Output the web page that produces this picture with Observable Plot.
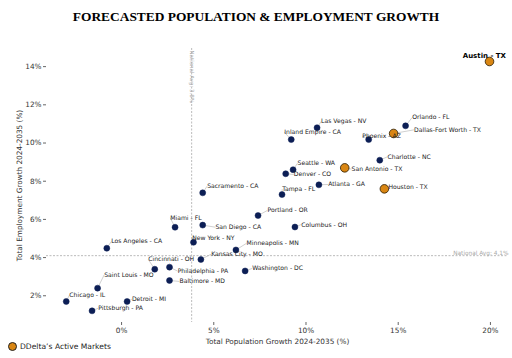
<!DOCTYPE html>
<html>
<head>
<meta charset="utf-8">
<script src="https://cdn.jsdelivr.net/npm/d3@7"></script>
<script src="https://cdn.jsdelivr.net/npm/@observablehq/plot@0.6"></script>
<style>
  body { margin: 0; background: #fff; width: 512px; height: 358px; overflow: hidden; position: relative; }
  #title { height: 30px; line-height: 34px; text-align: center; font-family: "Liberation Serif", "DejaVu Serif", serif; font-weight: bold; font-size: 13.4px; color: #000; }
  #legend { position: absolute; left: 8px; top: 342px; font-family: "DejaVu Sans", sans-serif; font-size: 7.6px; color: #222; display: flex; align-items: center; }
  #legend span.dot { display: inline-block; width: 9px; height: 9px; border-radius: 50%; background: #d98613; border: 1px solid #222; margin-right: 3px; box-sizing: border-box; }
</style>
</head>
<body>
<div id="title">FORECASTED POPULATION &amp; EMPLOYMENT GROWTH</div>
<div id="chart"></div>
<div id="legend"><span class="dot"></span>DDelta’s Active Markets</div>
<script>
const cities = ["Austin - TX","Orlando - FL","Dallas-Fort Worth - TX","Phoenix - AZ","Las Vegas - NV","Inland Empire - CA","Charlotte - NC","San Antonio - TX","Seattle - WA","Denver - CO","Houston - TX","Atlanta - GA","Tampa - FL","Sacramento - CA","Portland - OR","Columbus - OH","Miami - FL","San Diego - CA","New York - NY","Los Angeles - CA","Minneapolis - MN","Kansas City - MO","Cincinnati - OH","Philadelphia - PA","Washington - DC","Baltimore - MD","Saint Louis - MO","Chicago - IL","Detroit - MI","Pittsburgh - PA"];
const popGrowth = [19.95,15.4,14.75,13.4,10.6,9.2,14.0,12.1,9.3,8.9,14.25,10.7,8.7,4.4,7.4,9.4,2.9,4.4,3.9,-0.8,6.2,4.3,1.8,2.6,6.7,2.6,-1.3,-3.0,0.3,-1.6];
const empGrowth = [14.27,10.9,10.5,10.18,10.8,10.18,9.1,8.7,8.6,8.39,7.6,7.81,7.3,7.39,6.2,5.6,5.59,5.7,4.8,4.49,4.4,3.9,3.39,3.5,3.3,2.8,2.4,1.7,1.7,1.21];
const activeMarket = [true,false,true,false,false,false,false,true,false,false,true,false,false,false,false,false,false,false,false,false,false,false,false,false,false,false,false,false,false,false];
// label anchor positions (data units)
const labelX = [19.67,15.76,15.86,13.05,10.82,8.82,14.42,12.47,9.54,9.34,14.47,11.2,8.71,4.64,7.91,9.74,2.64,5.09,3.83,-0.56,6.78,4.86,1.45,3.04,7.08,3.14,-0.94,-2.83,0.56,-1.26];
const labelY = [14.58,11.34,10.69,10.36,11.13,10.57,9.28,8.63,8.94,8.35,7.71,7.83,7.58,7.74,6.47,5.73,6.08,5.59,5.04,4.84,4.75,4.18,3.9,3.29,3.43,2.75,3.1,2.03,1.82,1.35];
const nationalPop = 3.8;
const nationalEmp = 4.1;
const xTicks = [0,5,10,15,20];
const yTicks = [2,4,6,8,10,12,14];

const data = cities.map((c,i) => ({city:c, x:popGrowth[i], y:empGrowth[i], active:activeMarket[i], lx:labelX[i], ly:labelY[i]}));
const others = data.filter(d => !d.active);
const active = data.filter(d => d.active);
const normalLabels = data.filter(d => d.city !== "Austin - TX");
const boldLabels = data.filter(d => d.city === "Austin - TX");

const font = "DejaVu Sans, sans-serif";
const chart = Plot.plot({
  width: 512,
  height: 318,
  marginTop: 18,
  marginBottom: 26,
  marginLeft: 46,
  marginRight: 4,
  style: {fontFamily: font, fontSize: "7px", color: "#333", background: "#fff"},
  x: {domain: [-4.07, 20.98]},
  y: {domain: [0.6, 14.95]},
  marks: [
    Plot.axisX({ticks: xTicks, tickFormat: d => d + "%", tickSize: 3, tickPadding: 2, fontSize: 7.3, stroke: "#666",
      label: "Total Population Growth 2024-2035 (%)", labelAnchor: "center", labelArrow: "none", labelOffset: 21}),
    Plot.axisY({ticks: yTicks, tickFormat: d => d + "%", tickSize: 3, tickPadding: 2, fontSize: 7.3, stroke: "#666",
      label: "Total Employment Growth 2024-2035 (%)", labelAnchor: "center", labelArrow: "none", labelOffset: 30}),
    Plot.ruleX([nationalPop], {stroke: "#aaa", strokeWidth: 0.8, strokeDasharray: "2,1.5"}),
    Plot.ruleY([nationalEmp], {stroke: "#aaa", strokeWidth: 0.8, strokeDasharray: "2,1.5"}),
    Plot.text([nationalPop], {x: d => d, frameAnchor: "top", text: d => "National Avg: " + d + "%", rotate: 90, textAnchor: "start", dx: 2, dy: 2, fill: "#aaa", fontSize: 5.5}),
    Plot.text([nationalEmp], {y: d => d, frameAnchor: "right", text: d => "National Avg: " + d + "%", textAnchor: "end", dy: -3, fill: "#aaa", fontSize: 5.8}),
    Plot.link(normalLabels, {x1: "x", y1: "y", x2: "lx", y2: "ly", stroke: "#bbb", strokeWidth: 0.7}),
    Plot.dot(others, {x: "x", y: "y", r: 3, fill: "#0c1e55", stroke: "#0c1e55", strokeWidth: 0.5}),
    Plot.dot(active, {x: "x", y: "y", r: 4.3, fill: "#d98613", stroke: "#2a1a00", strokeWidth: 0.8}),
    Plot.text(normalLabels, {x: "lx", y: "ly", text: "city", textAnchor: "start", fill: "#222", fontSize: 6.1}),
    Plot.text(boldLabels, {x: "lx", y: "ly", text: "city", textAnchor: "middle", fill: "#000", fontSize: 7, fontWeight: "bold"})
  ]
});
document.getElementById("chart").appendChild(chart);
</script>
</body>
</html>
